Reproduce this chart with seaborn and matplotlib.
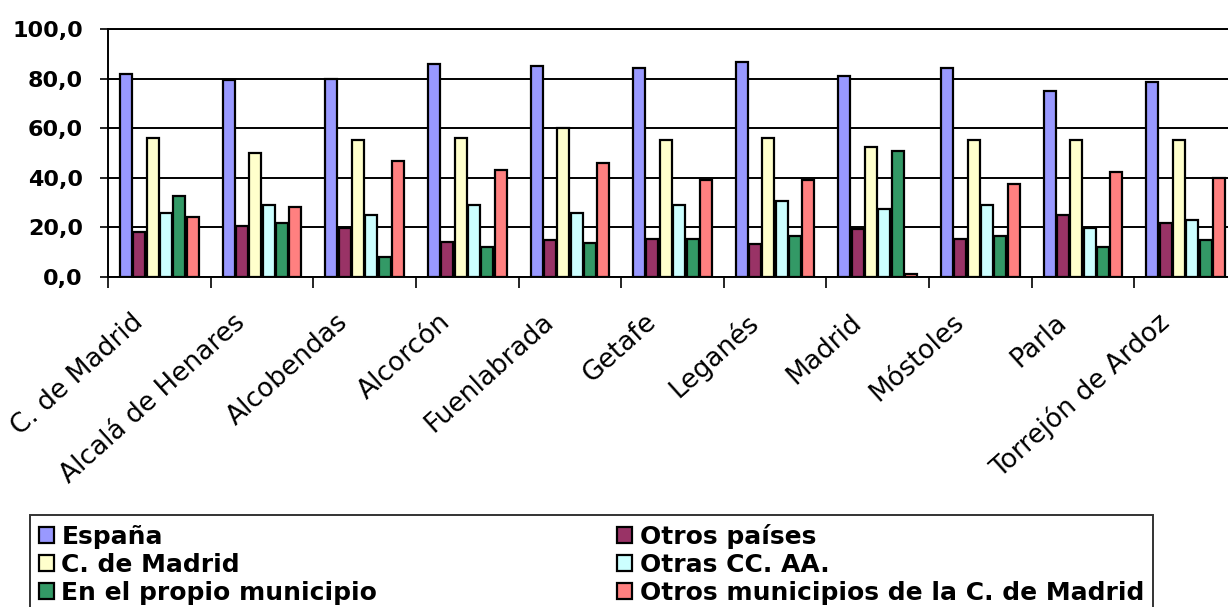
import matplotlib
matplotlib.use("Agg")
import matplotlib.pyplot as plt
import matplotlib.transforms as mtransforms
import numpy as np
import pandas as pd
import seaborn as sns

# --- data ---
MUNICIPIOS = ["C. de Madrid", "Alcalá de Henares", "Alcobendas", "Alcorcón",
              "Fuenlabrada", "Getafe", "Leganés", "Madrid", "Móstoles",
              "Parla", "Torrejón de Ardoz"]

ORIGENES = ["España", "Otros países", "C. de Madrid", "Otras CC. AA.",
            "En el propio municipio", "Otros municipios de la C. de Madrid"]

espana = [81.8, 79.5, 80.0, 86.0, 85.2, 84.3, 86.8, 81.0, 84.3, 75.1, 78.6]
otros_paises = [18.2, 20.7, 19.9, 14.0, 14.8, 15.5, 13.2, 19.5, 15.5, 24.9, 21.8]
c_madrid = [55.9, 49.9, 55.2, 55.9, 60.0, 55.2, 55.9, 52.5, 55.2, 55.2, 55.2]
otras_ccaa = [25.7, 29.2, 25.0, 29.2, 25.8, 29.2, 30.8, 27.3, 29.2, 19.8, 23.1]
propio_municipio = [32.6, 21.7, 8.1, 12.2, 13.9, 15.5, 16.4, 50.9, 16.4, 12.1, 14.8]
otros_municipios = [24.1, 28.4, 46.7, 43.3, 45.8, 39.3, 39.3, 1.3, 37.4, 42.4, 40.0]

YTICKS = [0, 20, 40, 60, 80, 100]
YTICK_LABELS = ["0,0", "20,0", "40,0", "60,0", "80,0", "100,0"]

COLORS = ["#9999FF", "#993366", "#FFFFCC", "#CCFFFF", "#339966", "#FF8080"]

series = [espana, otros_paises, c_madrid, otras_ccaa, propio_municipio, otros_municipios]
rows = []
for origen, vals in zip(ORIGENES, series):
    for muni, v in zip(MUNICIPIOS, vals):
        rows.append({"Municipio": muni, "Origen": origen, "Valor": v})
df = pd.DataFrame(rows)

# --- figure ---
sns.set_theme(style="white")
plt.rcParams["font.family"] = ["DejaVu Sans"]
plt.rcParams["text.color"] = "black"
plt.rcParams["xtick.color"] = "black"
plt.rcParams["ytick.color"] = "black"

W, H = 1228, 607
fig = plt.figure(figsize=(W / 100, H / 100), dpi=100)
ax = fig.add_axes([108 / W, 1 - 277 / H, (1237 - 108) / W, (277 - 29) / H])

sns.barplot(data=df, x="Municipio", y="Valor", hue="Origen",
            hue_order=ORIGENES, order=MUNICIPIOS, palette=COLORS,
            saturation=1, errorbar=None, width=0.78, gap=0.1,
            edgecolor="black", linewidth=1.6, ax=ax, zorder=3)

ax.set_xlim(-0.5, len(MUNICIPIOS) - 0.5)
ax.set_ylim(0, 100)
ax.set_xlabel("")
ax.set_ylabel("")

# y axis
ax.set_yticks(YTICKS)
ax.set_yticklabels(YTICK_LABELS, fontsize=16, fontweight="bold")
ax.tick_params(axis="y", left=True, length=6, width=1.2, color="black", pad=12,
               direction="out", labelcolor="black")
ax.grid(axis="y", color="black", linewidth=1.4, zorder=0)
ax.set_axisbelow(True)

# x axis: category labels in the middle, ticks at group boundaries
ax.set_xticks(np.arange(len(MUNICIPIOS)))
ax.set_xticklabels(MUNICIPIOS, rotation=42, ha="right", va="center",
                   rotation_mode="anchor", fontsize=19, color="black")
ax.set_xticks(np.arange(len(MUNICIPIOS) + 1) - 0.5, minor=True)
ax.tick_params(axis="x", which="major", length=0, pad=30)
ax.tick_params(axis="x", which="minor", bottom=True, length=8, width=1.2,
               color="black", direction="out")
offset = mtransforms.ScaledTranslation(-0.2, 0, fig.dpi_scale_trans)
for lbl in ax.get_xticklabels():
    lbl.set_transform(lbl.get_transform() + offset)

for side in ["left", "bottom", "top"]:
    ax.spines[side].set_color("black")
    ax.spines[side].set_linewidth(1.4)
ax.spines["right"].set_visible(False)

# legend: two columns, row-major order like the original
handles, labels = ax.get_legend_handles_labels()
ax.get_legend().remove()
order = [0, 2, 4, 1, 3, 5]
leg = fig.legend([handles[i] for i in order], [labels[i] for i in order],
                 loc="upper left", bbox_to_anchor=(30 / W, 1 - 515 / H),
                 ncol=2, frameon=True, fancybox=False, edgecolor="black",
                 prop={"weight": "bold", "size": 18},
                 handlelength=0.6, handleheight=0.6, handletextpad=0.3,
                 columnspacing=9.6, labelspacing=0.16, borderpad=0.35,
                 borderaxespad=0)
leg.get_frame().set_linewidth(1.4)
for t in leg.get_texts():
    t.set_color("black")

fig.savefig("out.png", dpi=100)
